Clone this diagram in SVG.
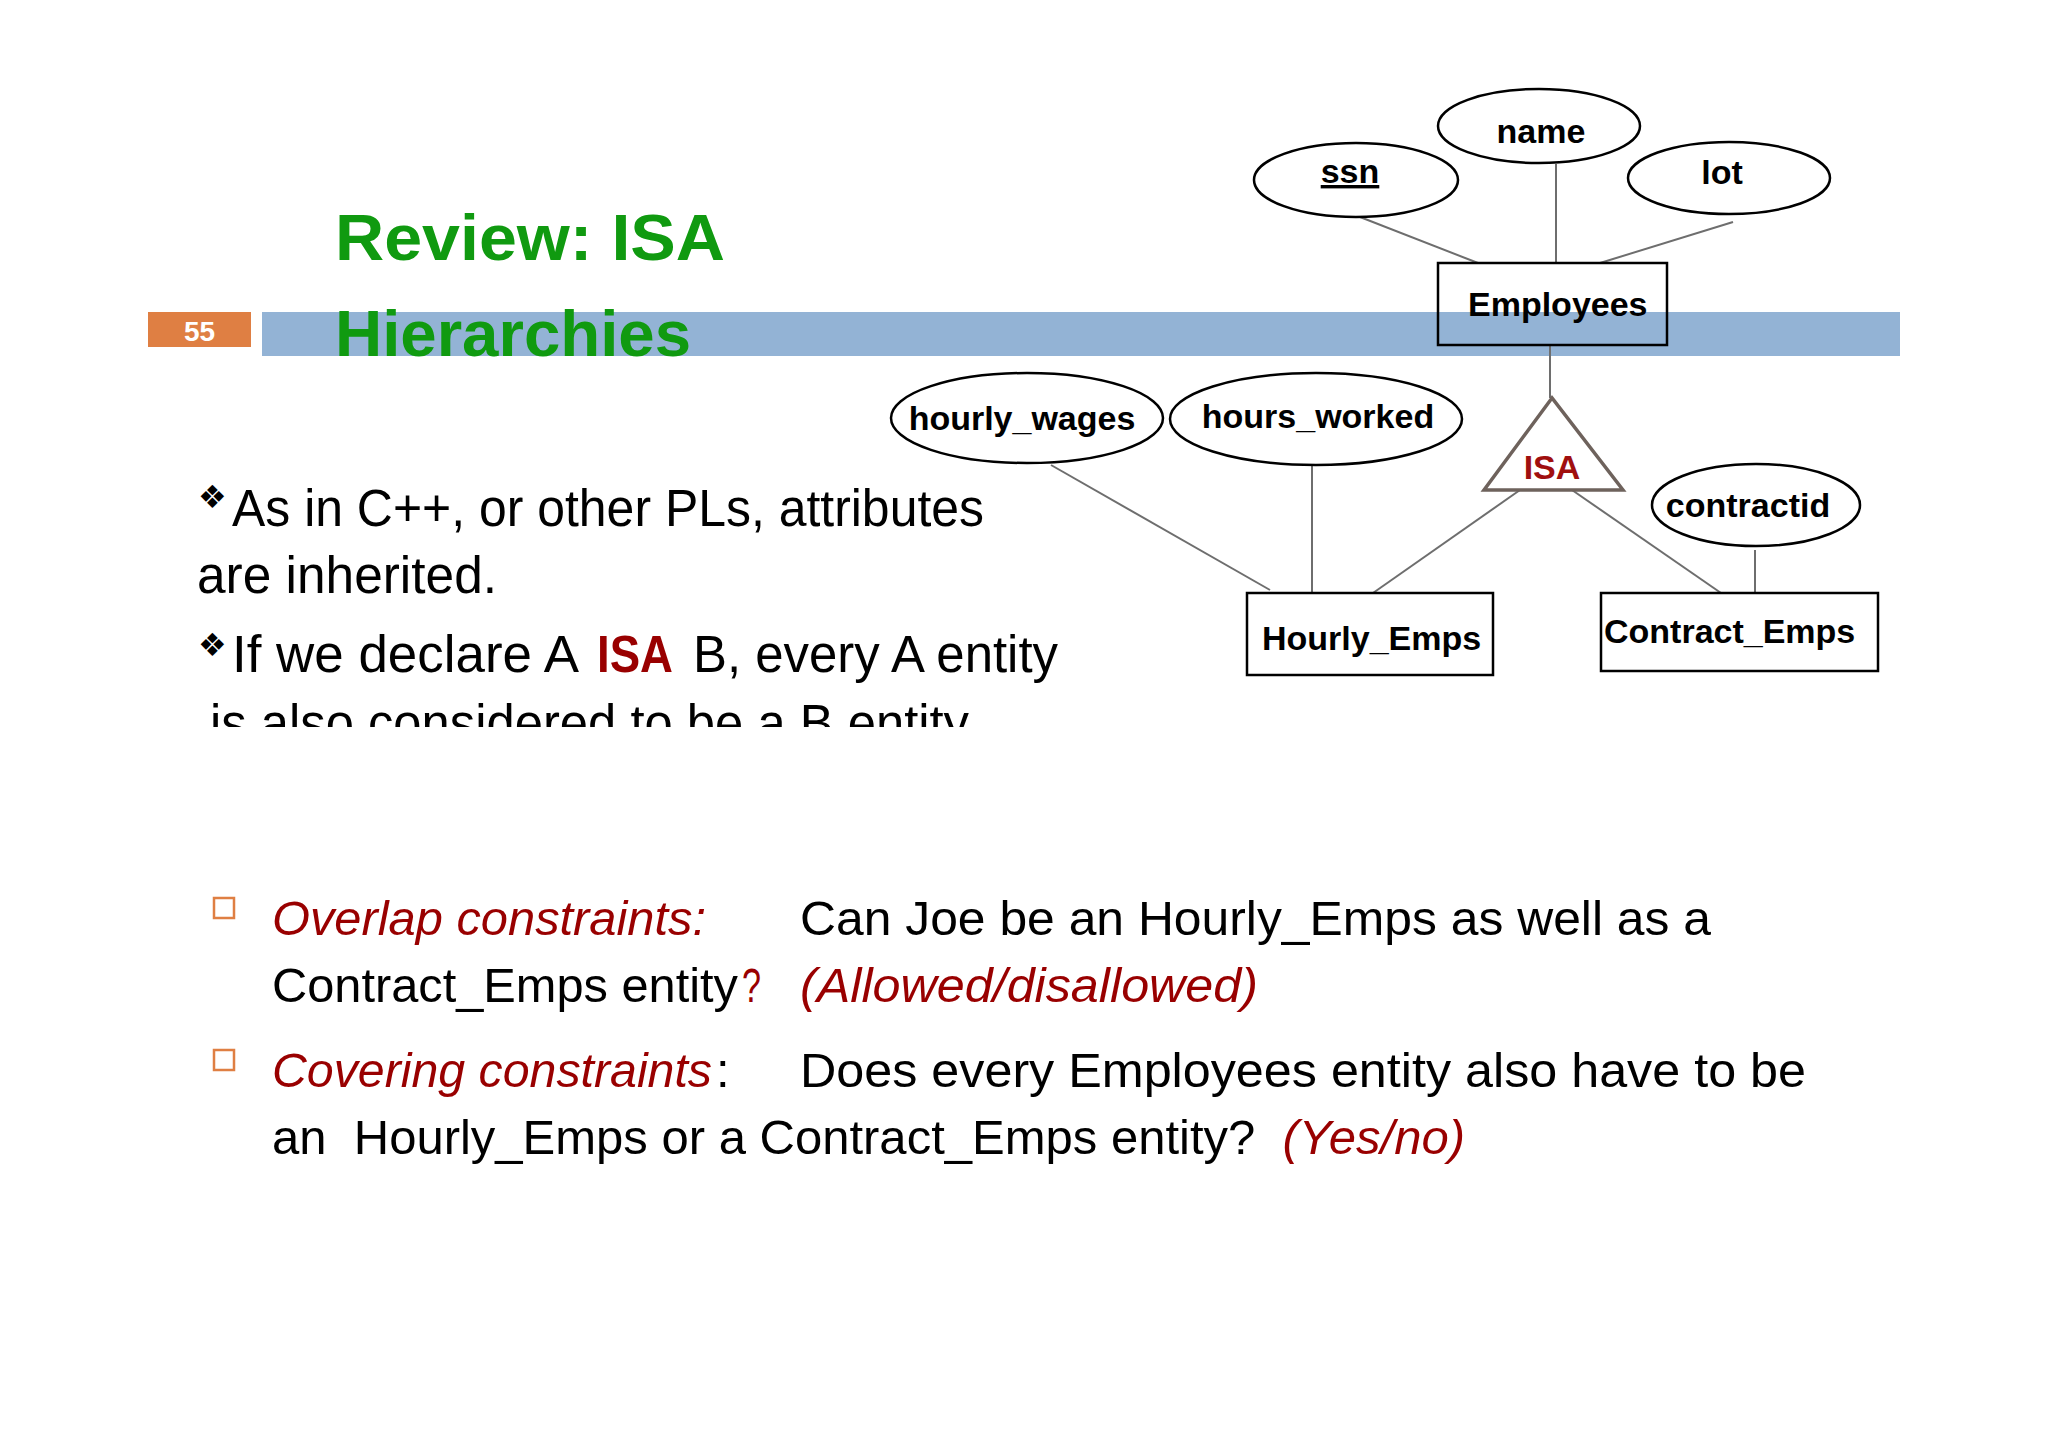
<svg xmlns="http://www.w3.org/2000/svg" width="2048" height="1448" viewBox="0 0 2048 1448">
<style>
.attr{fill:#fff;stroke:#000;stroke-width:2.5}
.ent{fill:none;stroke:#000;stroke-width:2.5}
.lbl{font-family:"Liberation Sans",Arial,sans-serif;font-weight:bold;font-size:34px;fill:#000}
.conn line{stroke:#6e6e6e;stroke-width:2}
.body{font-family:"Liberation Sans",Arial,sans-serif;font-size:51px;fill:#000}
.low{font-family:"Liberation Sans",Arial,sans-serif;font-size:49px;fill:#000}
.red{fill:#990000}
.blk{fill:#000;font-style:normal}
.it{font-style:italic}
.title{font-family:"Liberation Sans",Arial,sans-serif;font-weight:bold;font-size:64px;fill:#109A10}
.bul{font-family:"DejaVu Sans",sans-serif;font-size:32px;fill:#000}
.chk{fill:none;stroke:#DF7F43;stroke-width:2.5}
</style>
<defs>
<clipPath id="cut"><rect x="0" y="0" width="2048" height="727"/></clipPath>
</defs>
<rect x="0" y="0" width="2048" height="1448" fill="#fff"/>

<g id="header">
<rect x="262" y="312" width="1638" height="44" fill="#93B3D5"/>
<rect x="148" y="312" width="103" height="35" fill="#DF7F43"/>
<text x="199.5" y="341" text-anchor="middle" font-family="Liberation Sans,Arial,sans-serif" font-weight="bold" font-size="28" fill="#fff">55</text>
<text class="title" x="335" y="260" textLength="390" lengthAdjust="spacingAndGlyphs">Review: ISA</text>
<text class="title" x="335" y="356" textLength="356" lengthAdjust="spacingAndGlyphs">Hierarchies</text>
</g>

<g id="bullets-top">
<text class="bul" x="198" y="508">❖</text>
<text class="body" x="232" y="526" textLength="752" lengthAdjust="spacingAndGlyphs">As in C++, or other PLs, attributes</text>
<text class="body" x="197" y="593" textLength="300" lengthAdjust="spacingAndGlyphs">are inherited.</text>
<text class="bul" x="198" y="656">❖</text>
<text class="body" x="232" y="672" textLength="347" lengthAdjust="spacingAndGlyphs">If we declare A</text>
<text class="body red" x="597" y="672" font-weight="bold" textLength="76" lengthAdjust="spacingAndGlyphs">ISA</text>
<text class="body" x="693" y="672" textLength="365" lengthAdjust="spacingAndGlyphs">B, every A entity</text>
<g clip-path="url(#cut)">
<text class="body" x="210" y="741" textLength="759" lengthAdjust="spacingAndGlyphs">is also considered to be a B entity</text>
</g>
</g>

<g id="connectors" class="conn">
<line x1="1360" y1="217" x2="1478" y2="263"/>
<line x1="1556" y1="164" x2="1556" y2="263"/>
<line x1="1733" y1="222" x2="1600" y2="263"/>
<line x1="1550" y1="345" x2="1550" y2="398"/>
<line x1="1051" y1="465" x2="1270" y2="590"/>
<line x1="1312" y1="466" x2="1312" y2="593"/>
<line x1="1520" y1="490" x2="1373" y2="593"/>
<line x1="1572" y1="490" x2="1721" y2="593"/>
<line x1="1755" y1="550" x2="1755" y2="593"/>
</g>

<g id="name">
<ellipse class="attr" cx="1539" cy="126" rx="101" ry="37"/>
<text class="lbl" x="1541" y="143" text-anchor="middle">name</text>
</g>
<g id="ssn">
<ellipse class="attr" cx="1356" cy="180" rx="102" ry="37"/>
<text class="lbl" x="1350" y="183" text-anchor="middle" text-decoration="underline">ssn</text>
</g>
<g id="lot">
<ellipse class="attr" cx="1729" cy="178" rx="101" ry="36"/>
<text class="lbl" x="1722" y="184" text-anchor="middle">lot</text>
</g>
<g id="employees">
<rect class="ent" x="1438" y="263" width="229" height="82"/>
<text class="lbl" x="1468" y="316">Employees</text>
</g>
<g id="isa">
<polygon points="1552,398 1484,490 1623,490" fill="#fff" stroke="#6E625C" stroke-width="3.5" stroke-linejoin="miter"/>
<text x="1552" y="479" text-anchor="middle" font-family="Liberation Sans,Arial,sans-serif" font-weight="bold" font-size="34" fill="#A00F0F">ISA</text>
</g>
<g id="hourly_wages">
<ellipse class="attr" cx="1027" cy="418" rx="136" ry="45"/>
<text class="lbl" x="1022" y="430" text-anchor="middle">hourly_wages</text>
</g>
<g id="hours_worked">
<ellipse class="attr" cx="1316" cy="419" rx="146" ry="46"/>
<text class="lbl" x="1318" y="428" text-anchor="middle">hours_worked</text>
</g>
<g id="contractid">
<ellipse class="attr" cx="1756" cy="505" rx="104" ry="41"/>
<text class="lbl" x="1748" y="517" text-anchor="middle">contractid</text>
</g>
<g id="hourly_emps">
<rect class="ent" x="1247" y="593" width="246" height="82"/>
<text class="lbl" x="1262" y="650">Hourly_Emps</text>
</g>
<g id="contract_emps">
<rect class="ent" x="1601" y="593" width="277" height="78"/>
<text class="lbl" x="1604" y="643">Contract_Emps</text>
</g>

<g id="constraints">
<rect class="chk" x="214" y="898" width="20" height="20"/>
<text class="low red it" x="272" y="935" textLength="434" lengthAdjust="spacingAndGlyphs">Overlap constraints:</text>
<text class="low" x="800" y="935" textLength="911" lengthAdjust="spacingAndGlyphs">Can Joe be an Hourly_Emps as well as a</text>
<text class="low" x="272" y="1002" textLength="466" lengthAdjust="spacingAndGlyphs">Contract_Emps entity</text>
<text class="low red" x="742" y="1002" textLength="19" lengthAdjust="spacingAndGlyphs">?</text>
<text class="low red it" x="800" y="1002" textLength="458" lengthAdjust="spacingAndGlyphs">(Allowed/disallowed)</text>
<rect class="chk" x="214" y="1050" width="20" height="20"/>
<text class="low red it" x="272" y="1087" textLength="440" lengthAdjust="spacingAndGlyphs">Covering constraints</text>
<text class="low" x="716" y="1087">:</text>
<text class="low" x="800" y="1087" textLength="1006" lengthAdjust="spacingAndGlyphs">Does every Employees entity also have to be</text>
<text class="low" x="272" y="1154" textLength="1193" lengthAdjust="spacingAndGlyphs" xml:space="preserve">an  Hourly_Emps or a Contract_Emps entity?  <tspan class="red it">(Yes/no)</tspan></text>
</g>
</svg>
